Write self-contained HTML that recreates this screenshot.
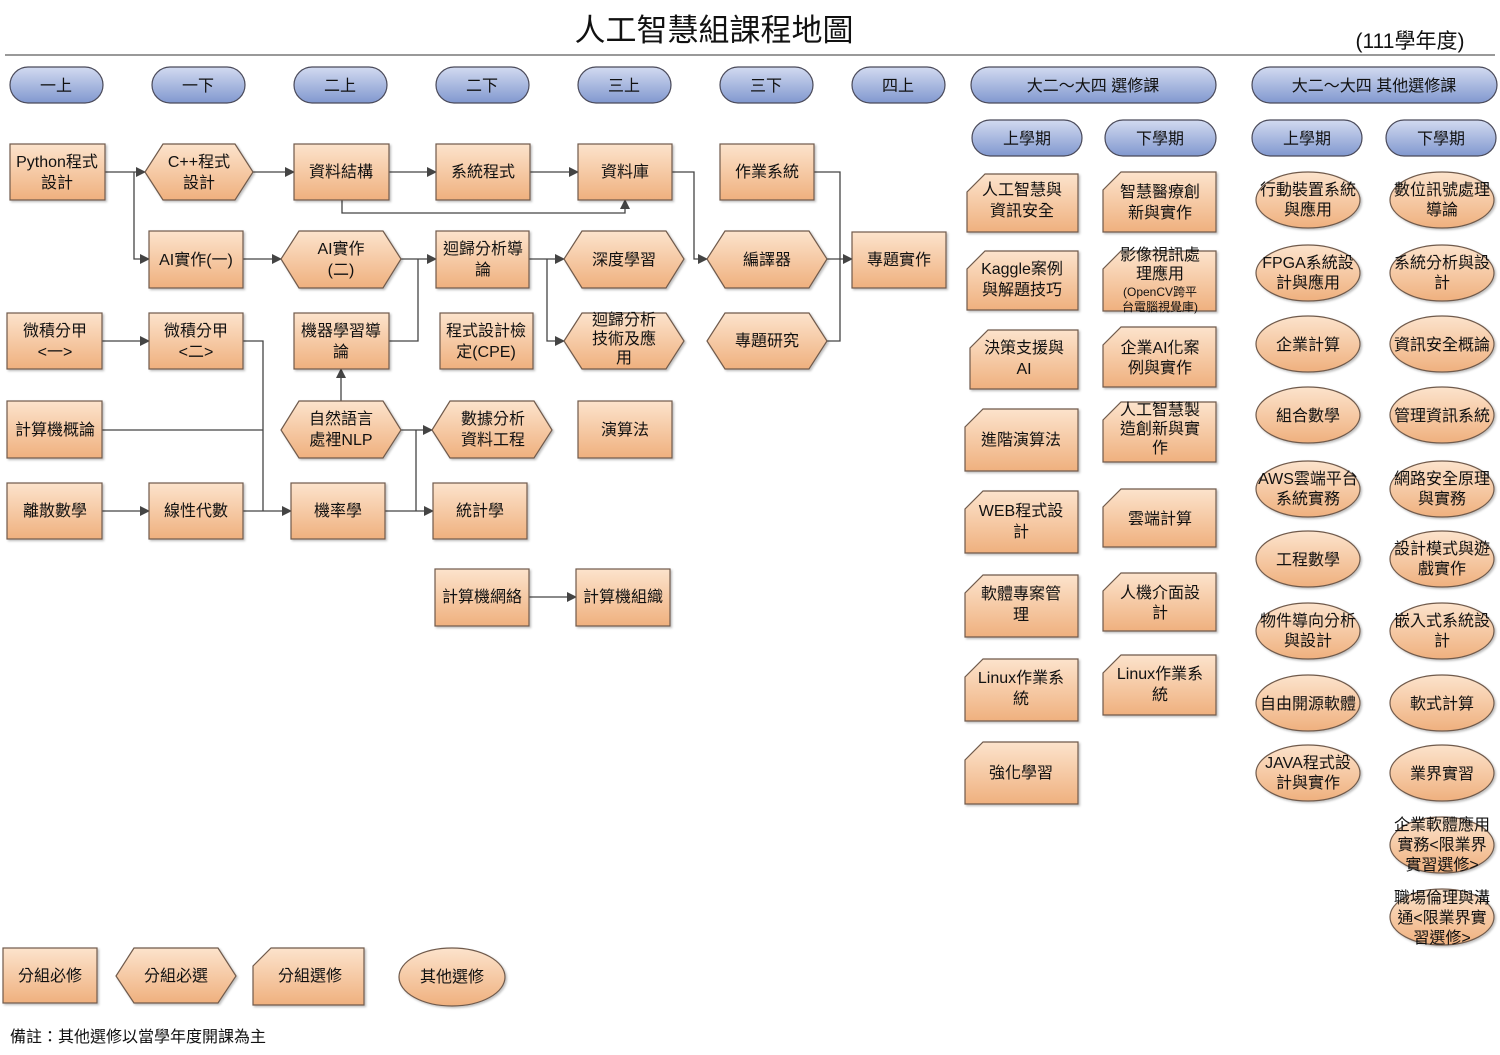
<!DOCTYPE html>
<html><head><meta charset="utf-8"><style>
body{margin:0;background:#fff}
svg{display:block}
text{font-family:"Liberation Sans","Noto Sans CJK TC",sans-serif;font-size:16px;fill:#111;text-anchor:middle}
.p text,text.p{font-size:16px}
.n{fill:url(#og);stroke:#6f5a4c;stroke-width:1.2;filter:url(#sh)}
.b{fill:url(#bg);stroke:#4a4a5a;stroke-width:1.2}
.l{fill:none;stroke:#444;stroke-width:1.3}
</style></head><body>
<svg width="1500" height="1055" viewBox="0 0 1500 1055" xmlns="http://www.w3.org/2000/svg">
<defs>
<linearGradient id="og" x1="0" y1="0" x2="0" y2="1"><stop offset="0" stop-color="#fce3cc"/><stop offset="1" stop-color="#efb07e"/></linearGradient>
<linearGradient id="bg" x1="0" y1="0" x2="0" y2="1"><stop offset="0" stop-color="#d2daf0"/><stop offset="1" stop-color="#8198cf"/></linearGradient>
<filter id="sh" x="-10%" y="-10%" width="130%" height="130%"><feDropShadow dx="1.5" dy="1.5" stdDeviation="1" flood-color="#000" flood-opacity="0.25"/></filter>
<marker id="a" markerWidth="10" markerHeight="10" refX="9" refY="5" orient="auto" markerUnits="userSpaceOnUse"><path d="M0,0 L10,5 L0,10 z" fill="#444"/></marker>
</defs>

<text x="714" y="41" style="font-size:31px">人工智慧組課程地圖</text>
<line x1="5" y1="55" x2="1495" y2="55" stroke="#333" stroke-width="1"/>
<text x="1410" y="48" style="font-size:21px">(111學年度)</text>

<g>
<rect class="b" x="10" y="67" width="93" height="36" rx="18"/><text x="56" y="91" class="p">一上</text>
<rect class="b" x="152" y="67" width="93" height="36" rx="18"/><text x="198" y="91" class="p">一下</text>
<rect class="b" x="294" y="67" width="93" height="36" rx="18"/><text x="340" y="91" class="p">二上</text>
<rect class="b" x="436" y="67" width="93" height="36" rx="18"/><text x="482" y="91" class="p">二下</text>
<rect class="b" x="578" y="67" width="93" height="36" rx="18"/><text x="624" y="91" class="p">三上</text>
<rect class="b" x="720" y="67" width="93" height="36" rx="18"/><text x="766" y="91" class="p">三下</text>
<rect class="b" x="852" y="67" width="93" height="36" rx="18"/><text x="898" y="91" class="p">四上</text>
<rect class="b" x="971" y="67" width="245" height="36" rx="18"/><text x="1093" y="91" class="p">大二～大四 選修課</text>
<rect class="b" x="1252" y="67" width="245" height="36" rx="18"/><text x="1374" y="91" class="p">大二～大四 其他選修課</text>
<rect class="b" x="972" y="120" width="110" height="36" rx="18"/><text x="1027" y="144" class="p">上學期</text>
<rect class="b" x="1105" y="120" width="111" height="36" rx="18"/><text x="1160" y="144" class="p">下學期</text>
<rect class="b" x="1252" y="120" width="110" height="36" rx="18"/><text x="1307" y="144" class="p">上學期</text>
<rect class="b" x="1386" y="120" width="110" height="36" rx="18"/><text x="1441" y="144" class="p">下學期</text>
</g>

<g>
<path class="l" d="M105,172 H145" marker-end="url(#a)"/>
<path class="l" d="M134,172 V259 H149" marker-end="url(#a)"/>
<path class="l" d="M253,172 H294" marker-end="url(#a)"/>
<path class="l" d="M389,172 H436" marker-end="url(#a)"/>
<path class="l" d="M530,172 H578" marker-end="url(#a)"/>
<path class="l" d="M342,200 V213 H625 V200" marker-end="url(#a)"/>
<path class="l" d="M672,172 H694 V259 H707" marker-end="url(#a)"/>
<path class="l" d="M814,172 H840 V341 H827"/>
<path class="l" d="M827,259 H852" marker-end="url(#a)"/>
<path class="l" d="M243,259 H281" marker-end="url(#a)"/>
<path class="l" d="M401,259 H436" marker-end="url(#a)"/>
<path class="l" d="M389,341 H418 V259"/>
<path class="l" d="M529,259 H564" marker-end="url(#a)"/>
<path class="l" d="M547,259 V341 H564" marker-end="url(#a)"/>
<path class="l" d="M102,341 H149" marker-end="url(#a)"/>
<path class="l" d="M243,341 H263 V511"/>
<path class="l" d="M102,430 H263"/>
<path class="l" d="M102,511 H149" marker-end="url(#a)"/>
<path class="l" d="M243,511 H291" marker-end="url(#a)"/>
<path class="l" d="M341,401 V369" marker-end="url(#a)"/>
<path class="l" d="M401,430 H432" marker-end="url(#a)"/>
<path class="l" d="M416,430 V511"/>
<path class="l" d="M385,511 H433" marker-end="url(#a)"/>
<path class="l" d="M529,597 H576" marker-end="url(#a)"/>
</g>

<g>
<rect class="n" x="10" y="144" width="95" height="56"/><text x="57" y="167">Python程式<tspan x="57" dy="21">設計</tspan></text>
<polygon class="n" points="163,144 235,144 253,172 235,200 163,200 145,172"/><text x="199" y="167">C++程式<tspan x="199" dy="21">設計</tspan></text>
<rect class="n" x="294" y="144" width="95" height="56"/><text x="341" y="177">資料結構</text>
<rect class="n" x="436" y="144" width="94" height="56"/><text x="483" y="177">系統程式</text>
<rect class="n" x="578" y="144" width="94" height="56"/><text x="625" y="177">資料庫</text>
<rect class="n" x="720" y="144" width="94" height="56"/><text x="767" y="177">作業系統</text>

<rect class="n" x="149" y="231" width="94" height="57"/><text x="196" y="265">AI實作(一)</text>
<polygon class="n" points="299,231 383,231 401,259 383,288 299,288 281,259"/><text x="341" y="254">AI實作<tspan x="341" dy="21">(二)</tspan></text>
<rect class="n" x="436" y="231" width="93" height="57"/><text x="483" y="254">迴歸分析導<tspan x="483" dy="21">論</tspan></text>
<polygon class="n" points="582,231 666,231 684,259 666,288 582,288 564,259"/><text x="624" y="265">深度學習</text>
<polygon class="n" points="725,231 809,231 827,259 809,288 725,288 707,259"/><text x="767" y="265">編譯器</text>
<rect class="n" x="852" y="232" width="94" height="56"/><text x="899" y="265">專題實作</text>

<rect class="n" x="7" y="313" width="95" height="56"/><text x="55" y="336">微積分甲<tspan x="55" dy="21">&lt;一&gt;</tspan></text>
<rect class="n" x="149" y="313" width="94" height="56"/><text x="196" y="336">微積分甲<tspan x="196" dy="21">&lt;二&gt;</tspan></text>
<rect class="n" x="294" y="313" width="95" height="56"/><text x="341" y="336">機器學習導<tspan x="341" dy="21">論</tspan></text>
<rect class="n" x="440" y="313" width="93" height="56"/><text x="486" y="336">程式設計檢<tspan x="486" dy="21">定(CPE)</tspan></text>
<polygon class="n" points="582,313 666,313 684,341 666,369 582,369 564,341"/><text x="624" y="325">迴歸分析<tspan x="624" dy="19">技術及應</tspan><tspan x="624" dy="19">用</tspan></text>
<polygon class="n" points="725,313 809,313 827,341 809,369 725,369 707,341"/><text x="767" y="346">專題研究</text>

<rect class="n" x="7" y="401" width="95" height="57"/><text x="55" y="435">計算機概論</text>
<polygon class="n" points="299,401 383,401 401,430 383,458 299,458 281,430"/><text x="341" y="424">自然語言<tspan x="341" dy="21">處裡NLP</tspan></text>
<polygon class="n" points="450,401 534,401 552,430 534,458 450,458 432,430"/><text x="493" y="424">數據分析<tspan x="493" dy="21">資料工程</tspan></text>
<rect class="n" x="578" y="401" width="94" height="57"/><text x="625" y="435">演算法</text>

<rect class="n" x="7" y="483" width="95" height="56"/><text x="55" y="516">離散數學</text>
<rect class="n" x="149" y="483" width="94" height="56"/><text x="196" y="516">線性代數</text>
<rect class="n" x="291" y="483" width="94" height="56"/><text x="338" y="516">機率學</text>
<rect class="n" x="433" y="483" width="94" height="56"/><text x="480" y="516">統計學</text>

<rect class="n" x="435" y="569" width="94" height="57"/><text x="482" y="602">計算機網絡</text>
<rect class="n" x="576" y="569" width="94" height="57"/><text x="623" y="602">計算機組織</text>
</g>

<g>
<polygon class="n" points="985,174 1078,174 1078,232 967,232 967,192"/><text x="1022" y="195">人工智慧與<tspan x="1022" dy="21">資訊安全</tspan></text>
<polygon class="n" points="985,251 1078,251 1078,310 967,310 967,269"/><text x="1022" y="274">Kaggle案例<tspan x="1022" dy="21">與解題技巧</tspan></text>
<polygon class="n" points="988,330 1078,330 1078,389 970,389 970,348"/><text x="1024" y="353">決策支援與<tspan x="1024" dy="21">AI</tspan></text>
<polygon class="n" points="983,409 1078,409 1078,471 965,471 965,427"/><text x="1021" y="445">進階演算法</text>
<polygon class="n" points="983,491 1078,491 1078,553 965,553 965,509"/><text x="1021" y="516">WEB程式設<tspan x="1021" dy="21">計</tspan></text>
<polygon class="n" points="983,575 1078,575 1078,637 965,637 965,593"/><text x="1021" y="599">軟體專案管<tspan x="1021" dy="21">理</tspan></text>
<polygon class="n" points="983,659 1078,659 1078,721 965,721 965,677"/><text x="1021" y="683">Linux作業系<tspan x="1021" dy="21">統</tspan></text>
<polygon class="n" points="983,742 1078,742 1078,804 965,804 965,760"/><text x="1021" y="778">強化學習</text>
</g>
<g>
<polygon class="n" points="1121,172 1216,172 1216,232 1103,232 1103,190"/><text x="1160" y="197">智慧醫療創<tspan x="1160" dy="21">新與實作</tspan></text>
<polygon class="n" points="1121,251 1216,251 1216,311 1103,311 1103,269"/><text x="1160" y="260">影像視訊處<tspan x="1160" dy="19">理應用</tspan><tspan x="1160" dy="17" style="font-size:12px">(OpenCV跨平</tspan><tspan x="1160" dy="15" style="font-size:12px">台電腦視覺庫)</tspan></text>
<polygon class="n" points="1121,327 1216,327 1216,387 1103,387 1103,345"/><text x="1160" y="353">企業AI化案<tspan x="1160" dy="20">例與實作</tspan></text>
<polygon class="n" points="1121,402 1216,402 1216,462 1103,462 1103,420"/><text x="1160" y="415">人工智慧製<tspan x="1160" dy="19">造創新與實</tspan><tspan x="1160" dy="19">作</tspan></text>
<polygon class="n" points="1121,489 1216,489 1216,547 1103,547 1103,507"/><text x="1160" y="524">雲端計算</text>
<polygon class="n" points="1121,573 1216,573 1216,631 1103,631 1103,591"/><text x="1160" y="598">人機介面設<tspan x="1160" dy="20">計</tspan></text>
<polygon class="n" points="1121,655 1216,655 1216,715 1103,715 1103,673"/><text x="1160" y="679">Linux作業系<tspan x="1160" dy="21">統</tspan></text>
</g>
<g>
<ellipse class="n" cx="1308" cy="200" rx="52" ry="28"/><text x="1308" y="195">行動裝置系統<tspan x="1308" dy="20">與應用</tspan></text>
<ellipse class="n" cx="1308" cy="273" rx="52" ry="28"/><text x="1308" y="268">FPGA系統設<tspan x="1308" dy="20">計與應用</tspan></text>
<ellipse class="n" cx="1308" cy="344" rx="52" ry="28"/><text x="1308" y="350">企業計算</text>
<ellipse class="n" cx="1308" cy="415" rx="52" ry="28"/><text x="1308" y="421">組合數學</text>
<ellipse class="n" cx="1308" cy="489" rx="52" ry="28"/><text x="1308" y="484">AWS雲端平台<tspan x="1308" dy="20">系統實務</tspan></text>
<ellipse class="n" cx="1308" cy="559" rx="52" ry="28"/><text x="1308" y="565">工程數學</text>
<ellipse class="n" cx="1308" cy="631" rx="52" ry="28"/><text x="1308" y="626">物件導向分析<tspan x="1308" dy="20">與設計</tspan></text>
<ellipse class="n" cx="1308" cy="703" rx="52" ry="28"/><text x="1308" y="709">自由開源軟體</text>
<ellipse class="n" cx="1308" cy="773" rx="52" ry="28"/><text x="1308" y="768">JAVA程式設<tspan x="1308" dy="20">計與實作</tspan></text>
</g>
<g>
<ellipse class="n" cx="1442" cy="200" rx="52" ry="28"/><text x="1442" y="195">數位訊號處理<tspan x="1442" dy="20">導論</tspan></text>
<ellipse class="n" cx="1442" cy="273" rx="52" ry="28"/><text x="1442" y="268">系統分析與設<tspan x="1442" dy="20">計</tspan></text>
<ellipse class="n" cx="1442" cy="344" rx="52" ry="28"/><text x="1442" y="350">資訊安全概論</text>
<ellipse class="n" cx="1442" cy="415" rx="52" ry="28"/><text x="1442" y="421">管理資訊系統</text>
<ellipse class="n" cx="1442" cy="489" rx="52" ry="28"/><text x="1442" y="484">網路安全原理<tspan x="1442" dy="20">與實務</tspan></text>
<ellipse class="n" cx="1442" cy="559" rx="52" ry="28"/><text x="1442" y="554">設計模式與遊<tspan x="1442" dy="20">戲實作</tspan></text>
<ellipse class="n" cx="1442" cy="631" rx="52" ry="28"/><text x="1442" y="626">嵌入式系統設<tspan x="1442" dy="20">計</tspan></text>
<ellipse class="n" cx="1442" cy="703" rx="52" ry="28"/><text x="1442" y="709">軟式計算</text>
<ellipse class="n" cx="1442" cy="773" rx="52" ry="28"/><text x="1442" y="779">業界實習</text>
<ellipse class="n" cx="1442" cy="845" rx="52" ry="28"/><text x="1442" y="830">企業軟體應用<tspan x="1442" dy="20">實務&lt;限業界</tspan><tspan x="1442" dy="20">實習選修&gt;</tspan></text>
<ellipse class="n" cx="1442" cy="917" rx="52" ry="28"/><text x="1442" y="903">職場倫理與溝<tspan x="1442" dy="20">通&lt;限業界實</tspan><tspan x="1442" dy="20">習選修&gt;</tspan></text>
</g>

<g>
<rect class="n" x="3" y="948" width="94" height="55"/><text x="50" y="981">分組必修</text>
<polygon class="n" points="134,948 218,948 236,976 218,1003 134,1003 116,976"/><text x="176" y="981">分組必選</text>
<polygon class="n" points="271,948 364,948 364,1005 253,1005 253,966"/><text x="310" y="981">分組選修</text>
<ellipse class="n" cx="452" cy="977" rx="53" ry="29"/><text x="452" y="982">其他選修</text>
</g>
<text x="10" y="1042" style="text-anchor:start;font-size:16px">備註：其他選修以當學年度開課為主</text>
</svg>
</body></html>
